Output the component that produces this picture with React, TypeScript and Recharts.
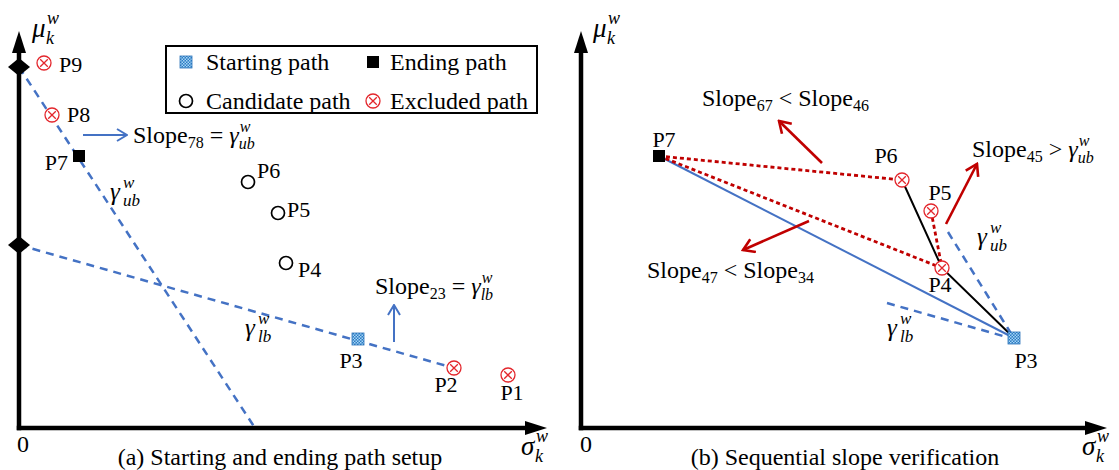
import React from 'react';
import { ScatterChart, Scatter, XAxis, YAxis, Legend } from 'recharts';

const BLUE = '#4472c4';
const RED = '#c00000';
const MARK_RED = '#e3262c';
const SERIF = "'Liberation Serif', 'Times New Roman', serif";
const serif = { fontFamily: SERIF };

// ---------- panel (a): starting and ending path setup ----------
const namesA = ['P1', 'P2', 'P3', 'P4', 'P5', 'P6', 'P7', 'P8', 'P9'];
const sigmaA = [489, 435, 339, 267, 259, 229, 60, 33, 25];
const muA = [53, 60, 89, 165, 215, 246, 272, 313, 365];
const kindA = ['excluded', 'excluded', 'start', 'candidate', 'candidate', 'candidate', 'end', 'excluded', 'excluded'];
const interceptsA = [361, 183];
const gammaUbA = [{ x: 0, y: 361 }, { x: 236, y: 0 }];
const gammaLbA = [{ x: 0, y: 183 }, { x: 435, y: 60 }];
const arrowRightA = [{ x: 64, y: 293 }, { x: 108, y: 293 }];
const arrowUpA = [{ x: 375, y: 86 }, { x: 375, y: 123 }];
const notesA = [
  { x: 114, y: 285, left: '78', op: '=', right: 'ub' },
  { x: 356, y: 134, left: '23', op: '=', right: 'lb' },
];
const gammaLabelsA = [
  { x: 91, y: 228, sub: 'ub' },
  { x: 226, y: 92, sub: 'lb' },
];

// ---------- panel (b): sequential slope verification ----------
const namesB = ['P3', 'P4', 'P5', 'P6', 'P7'];
const sigmaB = [433, 361, 350, 321, 78];
const muB = [90, 160, 217, 248, 272];
const kindB = ['start', 'excluded', 'excluded', 'excluded', 'end'];
const gammaUbB = [{ x: 367, y: 196 }, { x: 431, y: 93 }];
const gammaLbB = [{ x: 306, y: 125 }, { x: 429, y: 90 }];
const redArrowsB = [
  [{ x: 241, y: 265 }, { x: 198, y: 307 }],
  [{ x: 228, y: 207 }, { x: 162, y: 178 }],
  [{ x: 365, y: 204 }, { x: 396, y: 264 }],
];
const notesB = [
  { x: 121, y: 322, left: '67', op: '<', right: '46' },
  { x: 66, y: 150, left: '47', op: '<', right: '34' },
  { x: 391, y: 271, left: '45', op: '>', right: 'ub' },
];
const gammaLabelsB = [
  { x: 396, y: 183, sub: 'ub' },
  { x: 306, y: 92, sub: 'lb' },
];

const kindNames: Record<string, string> = {
  start: 'Starting path',
  end: 'Ending path',
  candidate: 'Candidate path',
  excluded: 'Excluded path',
};
const kindOrder = ['start', 'end', 'candidate', 'excluded'];

// label placement next to each mark: [dx, dy, anchor]
const labelPosA: Record<string, [number, number, string]> = {
  P1: [4, 25, 'middle'], P2: [-8, 24, 'middle'], P3: [-7, 29, 'middle'],
  P4: [12, 14, 'start'], P5: [9, 4, 'start'], P6: [9, -4, 'start'],
  P7: [-11, 14, 'end'], P8: [15, 7, 'start'], P9: [15, 9, 'start'],
};
const labelPosB: Record<string, [number, number, string]> = {
  P3: [12, 30, 'middle'], P4: [-2, 24, 'middle'], P5: [9, -11, 'middle'],
  P6: [-16, -17, 'middle'], P7: [5, -9, 'middle'],
};

const build = (names: string[], xs: number[], ys: number[], kinds: string[]) =>
  names.map((name, i) => ({ name, x: xs[i], y: ys[i], kind: kinds[i] }));
const pointsA = build(namesA, sigmaA, muA, kindA);
const pointsB = build(namesB, sigmaB, muB, kindB);
const byName = (pts: any[], ...names: string[]) =>
  names.map((n) => { const p = pts.find((q) => q.name === n); return { x: p.x, y: p.y }; });

function PathMark({ kind, cx, cy }: { kind: string; cx: number; cy: number }) {
  if (kind === 'start')
    return <rect x={cx - 6} y={cy - 6} width={12} height={12} fill="url(#startFill)" stroke="#2a72b8" strokeWidth={0.8} />;
  if (kind === 'end') return <rect x={cx - 6} y={cy - 6} width={12} height={12} fill="#000" />;
  if (kind === 'candidate') return <circle cx={cx} cy={cy} r={6.5} fill="#fff" stroke="#000" strokeWidth={1.7} />;
  const d = 3.8;
  return (
    <g>
      <circle cx={cx} cy={cy} r={7} fill="#fff" stroke={MARK_RED} strokeWidth={1.3} />
      <path d={`M${cx - d},${cy - d}L${cx + d},${cy + d}M${cx + d},${cy - d}L${cx - d},${cy + d}`} stroke={MARK_RED} strokeWidth={1.3} />
    </g>
  );
}

const pointShape = (labels: Record<string, [number, number, string]>) => (props: any) => {
  const { cx, cy, payload } = props;
  const [dx, dy, anchor] = labels[payload.name];
  return (
    <g>
      <PathMark kind={payload.kind} cx={cx} cy={cy} />
      <text x={cx + dx} y={cy + dy} textAnchor={anchor as any} fontSize={22} style={serif}>{payload.name}</text>
    </g>
  );
};

function Gamma({ x, y, sub }: { x: number; y: number; sub: string }) {
  return (
    <g style={{ ...serif, fontStyle: 'italic' }}>
      <text x={x} y={y} fontSize={25}>γ</text>
      <text x={x + 13} y={y - 12} fontSize={17}>w</text>
      <text x={x + 13} y={y + 6} fontSize={17}>{sub}</text>
    </g>
  );
}

function SlopeNote({ cx, cy, left, op, right }: any) {
  const gamma = right === 'ub' || right === 'lb';
  return (
    <text x={cx} y={cy} fontSize={24} style={serif}>
      Slope<tspan fontSize={16} dy={5}>{left}</tspan>
      <tspan dy={-5}>{` ${op} `}</tspan>
      {gamma ? (
        <>
          <tspan fontStyle="italic">γ</tspan>
          <tspan fontSize={16} fontStyle="italic" dx={1} dy={-11}>w</tspan>
          <tspan fontSize={16} fontStyle="italic" dx={-11.7} dy={17}>{right}</tspan>
        </>
      ) : (
        <>
          Slope<tspan fontSize={16} dy={5}>{right}</tspan>
        </>
      )}
    </text>
  );
}

const noDot = () => <g />;
const noteShape = (props: any) => <SlopeNote cx={props.cx} cy={props.cy} {...props.payload} />;
const gammaShape = (props: any) => <Gamma x={props.cx} y={props.cy} sub={props.payload.sub} />;
const diamondShape = (props: any) => {
  const { cx, cy } = props;
  return <path d={`M${cx - 11},${cy}L${cx},${cy - 9}L${cx + 11},${cy}L${cx},${cy + 9}Z`} fill="#000" />;
};

function seg(key: string, data: { x: number; y: number }[], line: any) {
  return (
    <Scatter key={key} data={data} shape={noDot} line={line} legendType="none" isAnimationActive={false} />
  );
}

function Defs({ id }: { id: string }) {
  return (
    <defs>
      <marker id={`axis-${id}`} viewBox="0 0 22 14" refX={1} refY={7} markerWidth={22} markerHeight={14}
        markerUnits="userSpaceOnUse" orient="auto">
        <path d="M0,0 L22,7 L0,14 Z" fill="#000" />
      </marker>
      <marker id={`blue-${id}`} viewBox="0 0 12 14" refX={11} refY={7} markerWidth={12} markerHeight={14}
        markerUnits="userSpaceOnUse" orient="auto">
        <path d="M1,1 L11,7 L1,13" fill="none" stroke={BLUE} strokeWidth={2} />
      </marker>
      <marker id={`red-${id}`} viewBox="0 0 14 16" refX={12} refY={8} markerWidth={14} markerHeight={16}
        markerUnits="userSpaceOnUse" orient="auto">
        <path d="M1,1 L12,8 L1,15" fill="none" stroke={RED} strokeWidth={2.6} />
      </marker>
      {id === 'a' && (
        <pattern id="startFill" width={3} height={3} patternUnits="userSpaceOnUse">
          <rect width={3} height={3} fill="#2b7cc4" />
          <rect width={1.5} height={1.5} fill="#a6d4f4" />
          <rect x={1.5} y={1.5} width={1.5} height={1.5} fill="#a6d4f4" />
        </pattern>
      )}
    </defs>
  );
}

// hidden scales; the arrowed axes are drawn as two segments
function axes(id: string, xMax: number) {
  const line = { stroke: '#000', strokeWidth: 4.5, strokeLinecap: 'square', markerEnd: `url(#axis-${id})` };
  return [
    <XAxis key="x" dataKey="x" type="number" domain={[0, xMax]} hide />,
    <YAxis key="y" dataKey="y" type="number" domain={[0, 376]} hide />,
    seg('xaxis', [{ x: 0, y: 0 }, { x: xMax, y: 0 }], line),
    seg('yaxis', [{ x: 0, y: 0 }, { x: 0, y: 376 }], line),
  ];
}

function PathLegend({ payload }: any) {
  const items = kindOrder
    .map((k) => ({ kind: k, entry: (payload ?? []).find((p: any) => p.value === kindNames[k]) }))
    .filter((it) => it.entry);
  return (
    <svg width={373} height={69} style={{ display: 'block' }}>
      <rect x={1} y={1} width={371} height={67} fill="#fff" stroke="#000" strokeWidth={2} />
      {items.map((it: any, i: number) => {
        const col = i % 2;
        const row = Math.floor(i / 2);
        const mx = col ? 208 : 21;
        const my = row ? 56 : 17;
        return (
          <g key={it.kind}>
            <PathMark kind={it.kind} cx={mx} cy={my} />
            <text x={col ? 225 : 41} y={my + 8} fontSize={24} style={serif}>{it.entry.value}</text>
          </g>
        );
      })}
    </svg>
  );
}

function PanelA() {
  const dashed = { stroke: BLUE, strokeWidth: 2.5, strokeDasharray: '8 6' };
  return (
    <ScatterChart width={560} height={470} margin={{ top: 52, left: 19, right: 34, bottom: 42 }}>
      <Defs id="a" />
      {axes('a', 507)}
      {seg('ub', gammaUbA, dashed)}
      {seg('lb', gammaLbA, dashed)}
      {seg('arrR', arrowRightA, { stroke: BLUE, strokeWidth: 2, markerEnd: 'url(#blue-a)' })}
      {seg('arrU', arrowUpA, { stroke: BLUE, strokeWidth: 2, markerEnd: 'url(#blue-a)' })}
      <Scatter data={interceptsA.map((y) => ({ x: 0, y }))} shape={diamondShape} legendType="none" isAnimationActive={false} />
      <Scatter data={notesA} shape={noteShape} legendType="none" isAnimationActive={false} />
      <Scatter data={gammaLabelsA} shape={gammaShape} legendType="none" isAnimationActive={false} />
      {kindOrder.map((k) => (
        <Scatter key={k} name={kindNames[k]} data={pointsA.filter((p) => p.kind === k)}
          shape={pointShape(labelPosA)} isAnimationActive={false} />
      ))}
      <Legend content={PathLegend} layout="horizontal" verticalAlign="middle" align="center"
        width={373} height={69} wrapperStyle={{ left: 165, top: 45, width: 373, height: 69 }} />
    </ScatterChart>
  );
}

function PanelB() {
  const dashed = { stroke: BLUE, strokeWidth: 2.5, strokeDasharray: '8 6' };
  const dotted = { stroke: RED, strokeWidth: 2.8, strokeDasharray: '4 3' };
  return (
    <ScatterChart width={559} height={470} margin={{ top: 52, left: 21, right: 33, bottom: 42 }}>
      <Defs id="b" />
      {axes('b', 505)}
      {seg('p7p3', byName(pointsB, 'P7', 'P3'), { stroke: BLUE, strokeWidth: 2 })}
      {seg('p7p6', byName(pointsB, 'P7', 'P6'), dotted)}
      {seg('p7p4', byName(pointsB, 'P7', 'P4'), dotted)}
      {seg('p5p4', byName(pointsB, 'P5', 'P4'), dotted)}
      {seg('p6p3', byName(pointsB, 'P6', 'P4', 'P3'), { stroke: '#000', strokeWidth: 2 })}
      {seg('ub', gammaUbB, dashed)}
      {seg('lb', gammaLbB, dashed)}
      {redArrowsB.map((a, i) => seg(`red${i}`, a, { stroke: RED, strokeWidth: 2.6, markerEnd: 'url(#red-b)' }))}
      <Scatter data={notesB} shape={noteShape} legendType="none" isAnimationActive={false} />
      <Scatter data={gammaLabelsB} shape={gammaShape} legendType="none" isAnimationActive={false} />
      {kindOrder.map((k) => (
        <Scatter key={k} name={kindNames[k]} data={pointsB.filter((p) => p.kind === k)}
          shape={pointShape(labelPosB)} legendType="none" isAnimationActive={false} />
      ))}
    </ScatterChart>
  );
}

function AxisName({ x, y, base, sub }: { x: number; y: number; base: string; sub: string }) {
  return (
    <g style={{ ...serif, fontStyle: 'italic' }}>
      <text x={x} y={y} fontSize={27}>{base}</text>
      <text x={x + 15} y={y - 13} fontSize={18}>w</text>
      <text x={x + 14} y={y + 7} fontSize={18}>{sub}</text>
    </g>
  );
}

export default function App() {
  return (
    <div style={{ position: 'absolute', left: 0, top: 0, width: 1119, height: 470, background: '#fff', overflow: 'hidden', ...serif }}>
      <div style={{ position: 'absolute', left: 0, top: 0 }}><PanelA /></div>
      <div style={{ position: 'absolute', left: 560, top: 0 }}><PanelB /></div>
      <svg width={1119} height={470} style={{ position: 'absolute', left: 0, top: 0, pointerEvents: 'none' }}>
        <AxisName x={32} y={37} base="μ" sub="k" />
        <AxisName x={593} y={37} base="μ" sub="k" />
        <AxisName x={521} y={455} base="σ" sub="k" />
        <AxisName x={1082} y={455} base="σ" sub="k" />
        <g style={serif} fontSize={24}>
          <text x={17} y={452}>0</text>
          <text x={580} y={452}>0</text>
          <text x={280} y={465} textAnchor="middle">(a) Starting and ending path setup</text>
          <text x={845} y={465} textAnchor="middle">(b) Sequential slope verification</text>
        </g>
      </svg>
    </div>
  );
}
